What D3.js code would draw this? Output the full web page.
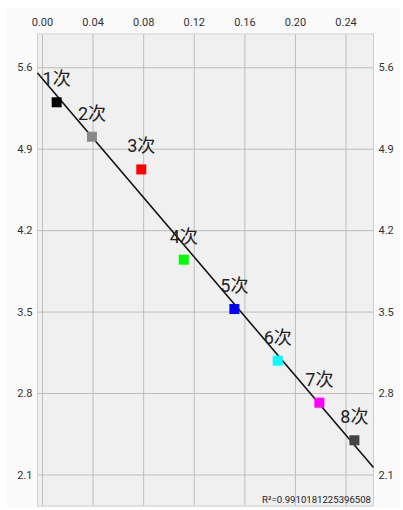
<!DOCTYPE html>
<html>
<head>
<meta charset="utf-8">
<script src="https://cdn.jsdelivr.net/npm/d3@7/dist/d3.min.js"></script>
<style>
  html, body { margin: 0; padding: 0; background: #ffffff; }
  svg { display: block; }
  text { font-family: Roboto, "Noto Sans CJK SC", "DejaVu Sans", sans-serif; }
</style>
</head>
<body>
<svg id="chart" width="403" height="510"></svg>
<script>
// Measurements, one per run
const labels = ["1次", "2次", "3次", "4次", "5次", "6次", "7次", "8次"];
const xValues = [0.0116, 0.0395, 0.0785, 0.1121, 0.1521, 0.1864, 0.2193, 0.2470];
const yValues = [5.299, 5.003, 4.722, 3.946, 3.522, 3.078, 2.717, 2.394];
const colors = ["#000000", "#888888", "#ff0000", "#00ff00", "#0000ff", "#00ffff", "#ff00ff", "#444444"];

// Axis ticks
const xTicks = [0.00, 0.04, 0.08, 0.12, 0.16, 0.20, 0.24];
const yTicks = [2.1, 2.8, 3.5, 4.2, 4.9, 5.6];
const r2Text = "R²=0.9910181225396508";

const svg = d3.select("#chart");
const plot = { left: 37.5, right: 373.5, top: 34, bottom: 506 };

svg.append("rect").attr("x", 7).attr("y", 8).attr("width", 393).attr("height", 500)
  .attr("fill", "#fafafa");

const x = d3.scaleLinear().domain([-0.00356, 0.2621]).range([plot.left, plot.right]);
const y = d3.scaleLinear().domain([1.829, 5.886]).range([plot.bottom, plot.top]);

// Plot background
svg.append("rect")
  .attr("x", plot.left).attr("y", plot.top)
  .attr("width", plot.right - plot.left).attr("height", plot.bottom - plot.top)
  .attr("fill", "#f0f0f0");

const gridColor = "#bdbdbd";

// Vertical grid + top labels
const gx = svg.append("g").attr("transform", `translate(0,${plot.top})`)
  .call(d3.axisTop(x).tickValues(xTicks).tickFormat(d3.format(".2f"))
    .tickSizeInner(-(plot.bottom - plot.top)).tickSizeOuter(0).tickPadding(8));
gx.select(".domain").remove();
gx.selectAll(".tick line").attr("stroke", gridColor).attr("stroke-width", 1);
gx.selectAll(".tick text").attr("font-size", 11).attr("fill", "#333");

// Horizontal grid + left labels
const gy = svg.append("g").attr("transform", `translate(${plot.left},0)`)
  .call(d3.axisLeft(y).tickValues(yTicks).tickFormat(d3.format(".1f"))
    .tickSizeInner(-(plot.right - plot.left)).tickSizeOuter(0).tickPadding(5));
gy.select(".domain").remove();
gy.selectAll(".tick line").attr("stroke", gridColor).attr("stroke-width", 1);
gy.selectAll(".tick text").attr("font-size", 11).attr("fill", "#333");

// Right labels
const gyr = svg.append("g").attr("transform", `translate(${plot.right},0)`)
  .call(d3.axisRight(y).tickValues(yTicks).tickFormat(d3.format(".1f"))
    .tickSize(0).tickPadding(5));
gyr.select(".domain").remove();
gyr.selectAll(".tick text").attr("font-size", 11).attr("fill", "#333");

// Plot border
svg.append("rect")
  .attr("x", plot.left).attr("y", plot.top)
  .attr("width", plot.right - plot.left).attr("height", plot.bottom - plot.top)
  .attr("fill", "none").attr("stroke", "#cfcfcf").attr("stroke-width", 1);

// Least-squares fit line
const n = xValues.length;
const mx = d3.mean(xValues), my = d3.mean(yValues);
let sxy = 0, sxx = 0;
for (let i = 0; i < n; i++) {
  sxy += (xValues[i] - mx) * (yValues[i] - my);
  sxx += (xValues[i] - mx) ** 2;
}
const slope = sxy / sxx;
const intercept = my - slope * mx;
const [x0, x1] = x.domain();
svg.append("line")
  .attr("x1", x(x0)).attr("y1", y(intercept + slope * x0))
  .attr("x2", x(x1)).attr("y2", y(intercept + slope * x1))
  .attr("stroke", "#111").attr("stroke-width", 1.6);

// Points
const data = labels.map((l, i) => ({ label: l, x: xValues[i], y: yValues[i], color: colors[i] }));
const sq = 10;
svg.append("g").selectAll("rect").data(data).join("rect")
  .attr("x", d => x(d.x) - sq / 2).attr("y", d => y(d.y) - sq / 2)
  .attr("width", sq).attr("height", sq)
  .attr("fill", d => d.color);

svg.append("g").selectAll("text").data(data).join("text")
  .attr("x", d => x(d.x)).attr("y", d => y(d.y) - 17)
  .attr("text-anchor", "middle")
  .attr("font-size", 18).attr("fill", "#222")
  .text(d => d.label);

svg.append("text")
  .attr("x", 371).attr("y", 503)
  .attr("text-anchor", "end").attr("font-size", 9.6).attr("fill", "#222")
  .text(r2Text);
</script>
</body>
</html>
